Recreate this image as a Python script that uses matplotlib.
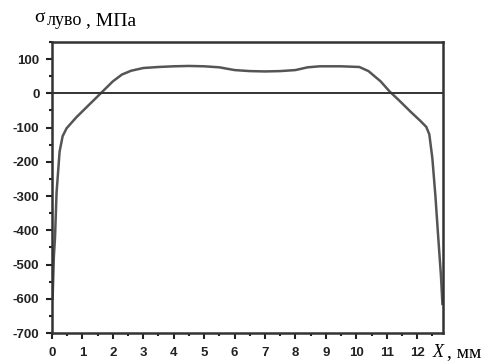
import matplotlib

matplotlib.use("Agg")
import matplotlib.pyplot as plt
import matplotlib.ticker as mticker
import numpy as np

plt.rcParams["font.family"] = "Liberation Sans"
plt.rcParams["axes.unicode_minus"] = False

# position along sample, mm
x_mm = [0.02, 0.06, 0.1, 0.15, 0.25, 0.35, 0.48, 0.8, 1.2, 1.6, 2.0, 2.3,
        2.6, 3.0, 3.5, 4.0, 4.5, 5.0, 5.5, 6.0, 6.5, 7.0, 7.5, 8.0, 8.4,
        8.8, 9.5, 10.1, 10.4, 10.8, 11.1, 11.4, 11.8, 12.1, 12.3, 12.4,
        12.5, 12.6, 12.7, 12.78, 12.83]
# residual stress, MPa
sigma = [-600, -480, -420, -290, -170, -125, -102, -70, -35, 0, 35, 55,
         66, 74, 77, 79, 80, 79, 76, 68, 65, 64, 65, 68, 76,
         79, 79, 77, 65, 35, 5, -20, -55, -80, -98, -120,
         -190, -300, -430, -530, -615]

x_ticks = list(range(0, 13))
y_ticks = [100, 0, -100, -200, -300, -400, -500, -600, -700]

fig = plt.figure(figsize=(4.98, 3.62), dpi=100)
ax = fig.add_axes([0.1044, 0.0801, 0.7852, 0.8039])

ax.plot(x_mm, sigma, color="#555555", linewidth=1.8)
ax.axhline(0, color="#333333", linewidth=1.4)

ax.set_xlim(0, 12.85)
ax.set_ylim(-700, 150)
ax.set_xticks(x_ticks)
ax.set_yticks(y_ticks)
ax.xaxis.set_minor_locator(mticker.MultipleLocator(0.5))
ax.yaxis.set_minor_locator(mticker.MultipleLocator(50))
ax.tick_params(which="both", direction="out", width=1.5, colors="#222222",
               labelsize=9.5)
ax.tick_params(which="major", length=4)
ax.tick_params(which="minor", length=2.5)
ax.tick_params(axis="x", which="major", pad=6)
ax.tick_params(axis="y", which="major", pad=5)
for lbl in ax.get_xticklabels() + ax.get_yticklabels():
    lbl.set_fontweight("bold")
for s in ax.spines.values():
    s.set_linewidth(1.8)
    s.set_color("#333333")

fig.text(0.068, 0.939, "σ", family="Liberation Serif", fontsize=14, va="baseline")
fig.text(0.094, 0.931, "лувo", family="Liberation Serif", fontsize=13, va="baseline")
fig.text(0.172, 0.931, ", МПа", family="Liberation Serif", fontsize=14, va="baseline")
fig.text(0.869, 0.014, "X", family="Liberation Serif", style="italic", fontsize=13, va="baseline")
fig.text(0.898, 0.014, ", мм", family="Liberation Serif", fontsize=14, va="baseline")

fig.savefig("out.png", dpi=100)
